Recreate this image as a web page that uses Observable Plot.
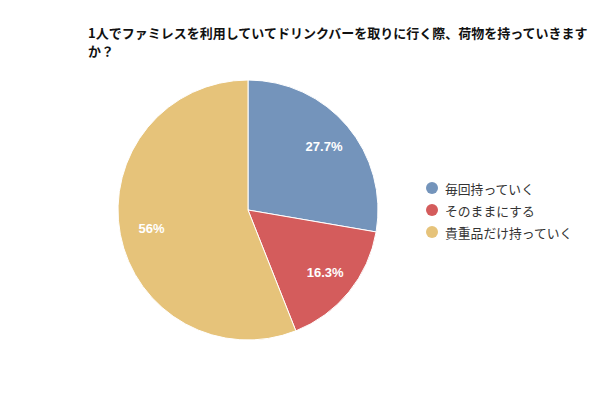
<!DOCTYPE html>
<html>
<head>
<meta charset="utf-8">
<script src="https://cdn.jsdelivr.net/npm/d3@7"></script>
<script src="https://cdn.jsdelivr.net/npm/@observablehq/plot@0.6"></script>
<style>
  body { margin: 0; background: #fff; }
  #wrap { position: relative; width: 600px; height: 400px; overflow: hidden; font-family: "Noto Sans CJK JP", "Noto Sans", sans-serif; }
  #title { position: absolute; left: 88px; top: 24px; width: 510px; font-size: 13px; font-weight: bold; line-height: 18px; color: #111; }
  #legend { position: absolute; left: 426px; top: 177px; font-size: 12.8px; color: #333; }
  .item { display: flex; align-items: center; height: 22px; }
  .sw { width: 12px; height: 12px; border-radius: 50%; margin-right: 7px; }
  #chart { position: absolute; left: 0; top: 0; }
</style>
</head>
<body>
<div id="wrap">
  <div id="chart"></div>
  <div id="title"></div>
  <div id="legend"></div>
</div>
<script>
const title = "1人でファミレスを利用していてドリンクバーを取りに行く際、荷物を持っていきますか？";
const categories = ["毎回持っていく", "そのままにする", "貴重品だけ持っていく"];
const values = [27.7, 16.3, 56];
const valueLabels = ["27.7%", "16.3%", "56%"];
const colors = ["#7494bb", "#d45c5c", "#e6c37a"];

const pie = d3.pie().sort(null).value(d => d.value);
const rows = categories.map((c, i) => ({category: c, value: values[i], label: valueLabels[i], color: colors[i]}));
const arcs = pie(rows);
const labelR = 0.76;
const labelRows = arcs.map(a => {
  const mid = (a.startAngle + a.endAngle) / 2;
  return {x: labelR * Math.sin(mid), y: labelR * Math.cos(mid), label: a.data.label};
});

const slices = (_, scales) => {
  const cx = scales.x(0), cy = scales.y(0);
  const r = scales.x(1) - scales.x(0);
  const arcGen = d3.arc().innerRadius(0).outerRadius(r);
  const g = d3.create("svg:g").attr("transform", `translate(${cx},${cy})`);
  g.selectAll("path").data(arcs).join("path")
    .attr("d", arcGen)
    .attr("fill", d => d.data.color)
    .attr("stroke", "#fff")
    .attr("stroke-width", 1);
  return g.node();
};

const plot = Plot.plot({
  width: 600,
  height: 400,
  margin: 0,
  x: {domain: [-1, 1], range: [118, 378], axis: null},
  y: {domain: [-1, 1], range: [340, 80], axis: null},
  style: {background: "transparent"},
  marks: [
    slices,
    Plot.text(labelRows, {x: "x", y: "y", text: "label", fill: "#fff", fontWeight: "bold", fontSize: 13, fontFamily: "'Liberation Sans', Arial, sans-serif"})
  ]
});
document.getElementById("chart").appendChild(plot);
document.getElementById("title").textContent = title;

const legend = d3.select("#legend");
rows.forEach(r => {
  const it = legend.append("div").attr("class", "item");
  it.append("div").attr("class", "sw").style("background", r.color);
  it.append("span").text(r.category);
});
</script>
</body>
</html>
